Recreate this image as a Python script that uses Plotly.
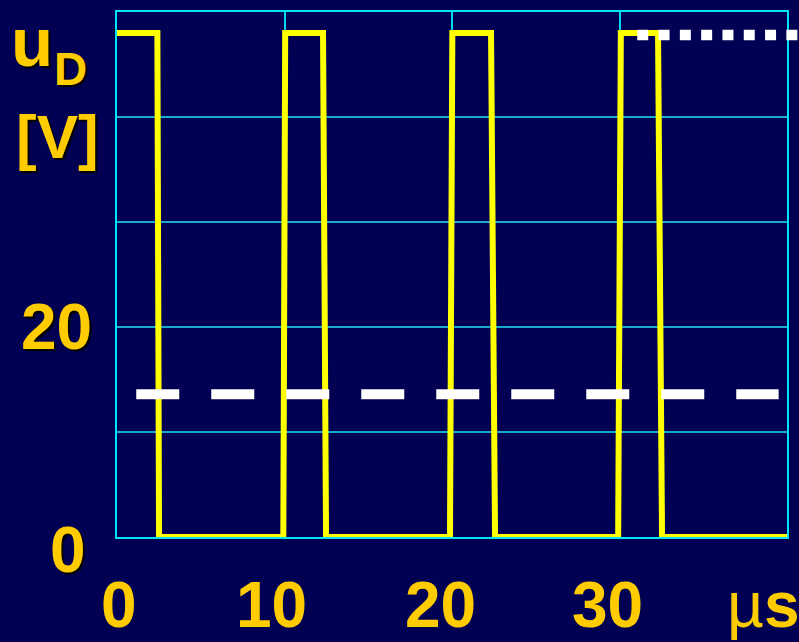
import plotly.graph_objects as go

# Diode voltage u_D over time (time in µs, voltage in V)
t_us = [0, 2.41, 2.51, 9.93, 10.04, 12.30, 12.48, 19.88, 20.02, 22.33, 22.57, 29.92, 30.08, 32.30, 32.54, 40]
u_d = [48, 48, 0, 0, 48, 48, 0, 0, 48, 48, 0, 0, 48, 48, 0, 0]

# Mean value (dashed) and peak value (dotted) reference levels
mean_t = [1.15, 39.5]
mean_v = 13.6
peak_t = [31.06, 41.0]
peak_v = 47.8

# Axis ranges and tick labels
x_range = [0, 40]
y_range = [0, 50]
x_tick_vals = [0, 10, 20, 30]
x_tick_text = ["0", "10", "20", "30"]
y_tick_vals = [0, 20]
y_tick_text = ["0", "20"]
x_unit = "µ<b>s</b>"

BG = "#020052"
GOLD = "#FFCC00"
FONT = "Liberation Sans"
SHADOW = "2px 2px 1px #000000"

fig = go.Figure()

fig.add_trace(go.Scatter(
    x=t_us, y=u_d, mode="lines",
    line=dict(color="#FFFF00", width=6),
    hoverinfo="skip", showlegend=False,
))

fig.add_trace(go.Scatter(
    x=mean_t, y=[mean_v, mean_v], mode="lines",
    line=dict(color="#FFFFFF", width=10, dash="43px,32px"),
    hoverinfo="skip", showlegend=False,
))

# Peak level line runs past the right edge of the plot area
span = x_range[1] - x_range[0]
fig.add_shape(
    type="line", layer="above",
    xref="paper", yref="y",
    x0=(peak_t[0] - x_range[0]) / span, x1=(peak_t[1] - x_range[0]) / span,
    y0=peak_v, y1=peak_v,
    line=dict(color="#FFFFFF", width=10.5, dash="11px,10.3px"),
)

annotations = []
x_shifts = [2, -13.5, -12, -12.5]
for v, txt, dx in zip(x_tick_vals, x_tick_text, x_shifts):
    annotations.append(dict(
        x=v, xref="x", y=0, yref="paper", text=f"<b>{txt}</b>",
        xanchor="center", yanchor="middle", xshift=dx, yshift=-68,
        showarrow=False, font=dict(family=FONT, size=64, color=GOLD),
    ))

annotations.append(dict(
    x=x_range[1], xref="x", y=0, yref="paper", text=x_unit,
    xanchor="left", yanchor="middle", xshift=-62, yshift=-68,
    showarrow=False, font=dict(family=FONT, size=64, color=GOLD),
))

y_xshifts = [-29.4, -23.5]
y_yshifts = [-13, 0]
for v, txt, dx, dy in zip(y_tick_vals, y_tick_text, y_xshifts, y_yshifts):
    annotations.append(dict(
        x=0, xref="paper", y=v, yref="y", text=f"<b>{txt}</b>",
        xanchor="right", yanchor="middle", xshift=dx, yshift=dy,
        showarrow=False, font=dict(family=FONT, size=64, color=GOLD, shadow=SHADOW),
    ))

# Axis title u_D [V]
annotations += [
    dict(x=0, xref="paper", y=1, yref="paper", text="<b>u</b>",
         xanchor="left", yanchor="middle", xshift=-108, yshift=-30.5,
         showarrow=False, font=dict(family=FONT, size=69, color=GOLD, shadow=SHADOW)),
    dict(x=0, xref="paper", y=1, yref="paper", text="<b>D</b>",
         xanchor="left", yanchor="middle", xshift=-65, yshift=-57,
         showarrow=False, font=dict(family=FONT, size=46, color=GOLD, shadow=SHADOW)),
    dict(x=0, xref="paper", y=1, yref="paper", text="<b>[V]</b>",
         xanchor="left", yanchor="middle", xshift=-103, yshift=-124.5,
         showarrow=False, font=dict(family=FONT, size=62, color=GOLD, shadow=SHADOW)),
]

fig.update_layout(
    width=799, height=642,
    margin=dict(l=117, r=12, t=10, b=105),
    paper_bgcolor=BG, plot_bgcolor=BG,
    showlegend=False,
    annotations=annotations,
    xaxis=dict(
        range=x_range, dtick=10, tick0=0,
        showgrid=True, gridcolor="#00D8F0", gridwidth=1.5,
        showline=True, linecolor="#00E5F5", linewidth=2, mirror=True,
        zeroline=False, showticklabels=False, ticks="",
    ),
    yaxis=dict(
        range=y_range, dtick=10, tick0=0,
        showgrid=True, gridcolor="#18AACB", gridwidth=2,
        showline=True, linecolor="#00E5F5", linewidth=2, mirror=True,
        zeroline=False, showticklabels=False, ticks="",
    ),
)

fig.write_html("out.html")
